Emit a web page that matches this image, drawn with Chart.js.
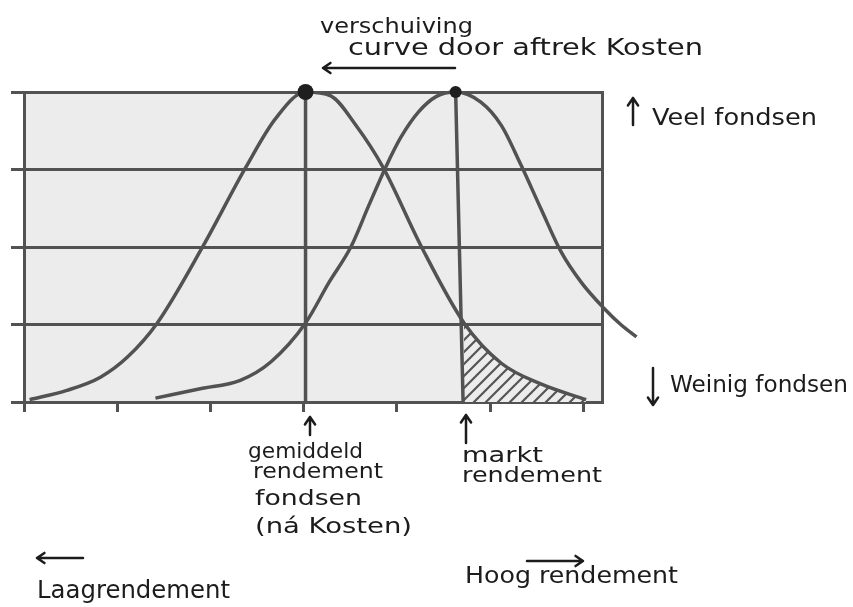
<!DOCTYPE html>
<html>
<head>
<meta charset="utf-8">
<script src="https://cdn.jsdelivr.net/npm/chart.js@4.4.1/dist/chart.umd.min.js"></script>
<style>
  html, body { margin: 0; padding: 0; background: #ffffff; }
  canvas { display: block; }
</style>
</head>
<body>
<canvas id="c" width="853" height="607"></canvas>
<script>
// ---- data ----
const xTicks = [0, 1, 2, 3, 4, 5, 6];
const yTicks = [0, 1, 2, 3, 4];
const xRange = [0, 6.2];
const yRange = [0, 4];

// curve after costs ("gemiddeld rendement fondsen (ná kosten)")
const naKostenX = [0.06, 0.46, 0.82, 1.11, 1.43, 1.92, 2.38, 2.70, 3.02, 3.29, 3.56, 3.85, 4.26, 4.72, 5.12, 5.55, 6.03];
const naKostenY = [0.03, 0.15, 0.32, 0.58, 1.02, 2.01, 3.03, 3.66, 4.00, 3.95, 3.57, 3.03, 2.01, 1.02, 0.50, 0.23, 0.03];

// market curve ("markt rendement")
const marktX = [1.41, 1.89, 2.32, 2.65, 3.02, 3.27, 3.51, 3.70, 3.88, 4.04, 4.23, 4.42, 4.63, 4.90, 5.12, 5.33, 5.55, 5.76, 5.98, 6.22, 6.41, 6.57];
const marktY = [0.05, 0.17, 0.28, 0.52, 1.02, 1.54, 2.01, 2.54, 3.03, 3.41, 3.74, 3.94, 4.00, 3.87, 3.57, 3.06, 2.48, 1.94, 1.54, 1.21, 0.99, 0.84];

// vertical marker lines
const gemiddeldLineX = [3.02, 3.02];
const gemiddeldLineY = [0, 4];
const marktLineX = [4.63, 4.71];
const marktLineY = [4, 0];

// peaks
const peakX = [3.02, 4.63];
const peakY = [4, 4];

const hatchFromX = 4.70;

// ---- build ----
const pts = (xs, ys) => xs.map((x, i) => ({ x: x, y: ys[i] }));
const hatchPts = pts(naKostenX, naKostenY).filter(p => p.x >= hatchFromX);

function makeHatch() {
  const c = document.createElement('canvas');
  c.width = 12; c.height = 12;
  const g = c.getContext('2d');
  g.fillStyle = '#ececec';
  g.fillRect(0, 0, 12, 12);
  g.strokeStyle = '#555';
  g.lineWidth = 2.2;
  g.beginPath();
  g.moveTo(-1, 13); g.lineTo(13, -1);
  g.moveTo(-7, 7); g.lineTo(7, -7);
  g.moveTo(5, 19); g.lineTo(19, 5);
  g.stroke();
  return g.createPattern(c, 'repeat');
}

const LINE = '#525252';
const INK = '#1c1c1c';
const FONT = '"DejaVu Sans", sans-serif';

const bgPlugin = {
  id: 'bg',
  beforeDraw(chart) {
    const { ctx, chartArea: a } = chart;
    ctx.save();
    ctx.fillStyle = '#ececec';
    ctx.fillRect(a.left, a.top, a.right - a.left, a.bottom - a.top);
    ctx.restore();
  }
};

function txt(ctx, t, x, base, w, size) {
  ctx.save();
  ctx.font = size + 'px ' + FONT;
  const m = ctx.measureText(t).width;
  ctx.translate(x, base);
  ctx.scale(w / m, 1);
  ctx.fillText(t, 0, 0);
  ctx.restore();
}

function arrow(ctx, x1, y1, x2, y2) {
  const ang = Math.atan2(y2 - y1, x2 - x1);
  const h = 9;
  ctx.beginPath();
  ctx.moveTo(x1, y1);
  ctx.lineTo(x2, y2);
  ctx.moveTo(x2 - h * Math.cos(ang - 0.6), y2 - h * Math.sin(ang - 0.6));
  ctx.lineTo(x2, y2);
  ctx.lineTo(x2 - h * Math.cos(ang + 0.6), y2 - h * Math.sin(ang + 0.6));
  ctx.stroke();
}

const notesPlugin = {
  id: 'notes',
  afterDraw(chart) {
    const ctx = chart.ctx;
    ctx.save();
    ctx.fillStyle = INK;
    ctx.strokeStyle = INK;
    ctx.lineWidth = 2.5;
    ctx.lineCap = 'round';
    ctx.lineJoin = 'round';
    ctx.textBaseline = 'alphabetic';

    txt(ctx, 'verschuiving', 320, 33, 153, 21);
    txt(ctx, 'curve door aftrek Kosten', 348, 55, 355, 23);
    arrow(ctx, 455, 68, 323, 68);

    arrow(ctx, 633, 125, 633, 98);
    txt(ctx, 'Veel fondsen', 652, 125, 165, 23);

    arrow(ctx, 653, 368, 653, 405);
    txt(ctx, 'Weinig fondsen', 670, 392, 178, 23);

    arrow(ctx, 310, 435, 310, 417);
    txt(ctx, 'gemiddeld', 248, 458, 115, 21);
    txt(ctx, 'rendement', 253, 478, 130, 21);
    txt(ctx, 'fondsen', 255, 505, 107, 21);
    txt(ctx, '(ná Kosten)', 255, 533, 157, 22);

    arrow(ctx, 466, 443, 466, 415);
    txt(ctx, 'markt', 462, 462, 81, 21);
    txt(ctx, 'rendement', 462, 482, 140, 21);

    arrow(ctx, 83, 558, 37, 558);
    txt(ctx, 'Laagrendement', 37, 598, 193, 25);

    arrow(ctx, 527, 561, 583, 561);
    txt(ctx, 'Hoog rendement', 465, 583, 213, 23);

    ctx.restore();
  }
};

new Chart(document.getElementById('c'), {
  type: 'scatter',
  data: {
    datasets: [
      {
        label: 'ná kosten',
        data: pts(naKostenX, naKostenY),
        showLine: true,
        borderColor: LINE,
        borderWidth: 3.5,
        pointRadius: 0,
        cubicInterpolationMode: 'monotone',
        order: 2
      },
      {
        label: 'markt',
        data: pts(marktX, marktY),
        showLine: true,
        borderColor: LINE,
        borderWidth: 3.5,
        pointRadius: 0,
        cubicInterpolationMode: 'monotone',
        clip: false,
        order: 2
      },
      {
        label: 'hatch',
        data: hatchPts,
        showLine: true,
        borderWidth: 0,
        borderColor: 'rgba(0,0,0,0)',
        backgroundColor: makeHatch(),
        fill: 'origin',
        pointRadius: 0,
        cubicInterpolationMode: 'monotone',
        order: 10
      },
      {
        label: 'gemiddeld',
        data: pts(gemiddeldLineX, gemiddeldLineY),
        showLine: true,
        borderColor: LINE,
        borderWidth: 3.5,
        pointRadius: 0,
        order: 3
      },
      {
        label: 'marktlijn',
        data: pts(marktLineX, marktLineY),
        showLine: true,
        borderColor: LINE,
        borderWidth: 3.5,
        pointRadius: 0,
        order: 3
      },
      {
        label: 'toppen',
        data: pts(peakX, peakY),
        showLine: false,
        pointRadius: [8, 6],
        pointBackgroundColor: '#1e1e1e',
        pointBorderWidth: 0,
        clip: false,
        order: 0
      }
    ]
  },
  options: {
    responsive: false,
    animation: false,
    layout: { padding: { left: 10, top: 92, right: 251, bottom: 195 } },
    plugins: { legend: { display: false }, tooltip: { enabled: false } },
    scales: {
      x: {
        type: 'linear',
        bounds: 'data',
        afterDataLimits: s => { s.min = xRange[0]; s.max = xRange[1]; },
        afterBuildTicks: s => { s.ticks = xTicks.map(v => ({ value: v })); },
        afterFit: s => { s.height = 10; },
        ticks: { display: false },
        grid: { drawOnChartArea: false, drawTicks: true, tickLength: 10, color: LINE, lineWidth: 3 },
        border: { display: true, color: LINE, width: 3 }
      },
      y: {
        min: yRange[0],
        max: yRange[1],
        afterBuildTicks: s => { s.ticks = yTicks.map(v => ({ value: v })); },
        afterFit: s => { s.width = 14; },
        ticks: { display: false },
        grid: { color: LINE, lineWidth: 3, tickLength: 13 },
        border: { display: true, color: LINE, width: 3 }
      },
      y2: {
        position: 'right',
        min: yRange[0],
        max: yRange[1],
        afterFit: s => { s.width = 0; },
        ticks: { display: false },
        grid: { display: false, drawTicks: false },
        border: { display: true, color: LINE, width: 3 }
      }
    }
  },
  plugins: [bgPlugin, notesPlugin]
});
</script>
</body>
</html>
